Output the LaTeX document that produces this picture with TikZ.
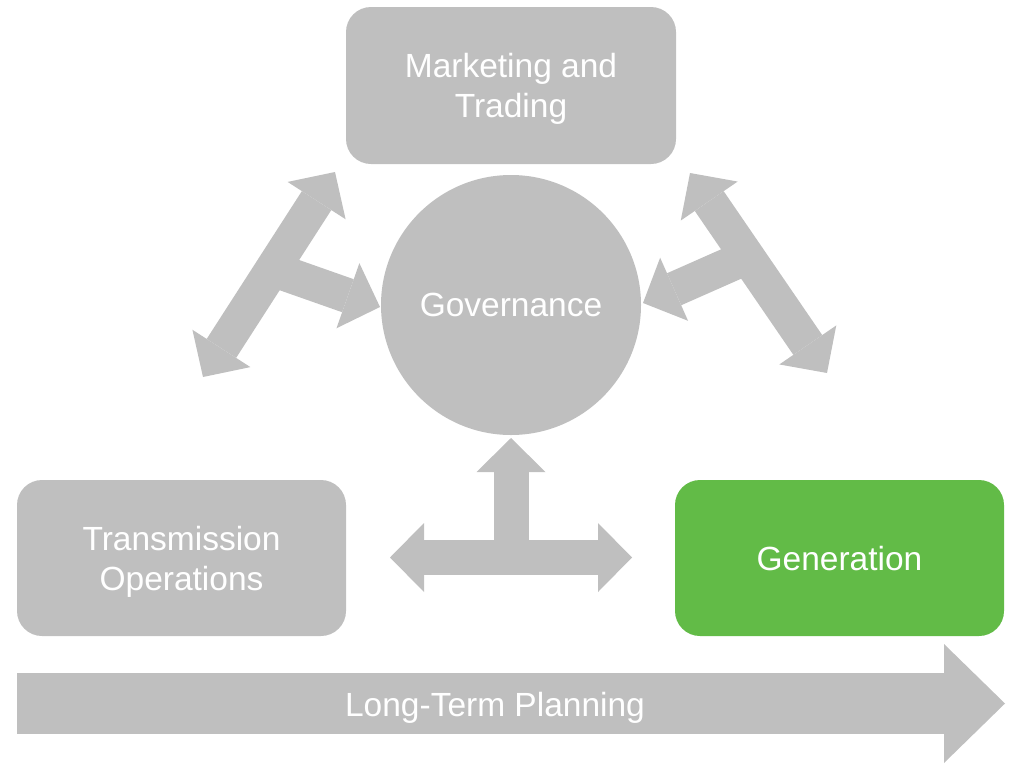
\documentclass[tikz,border=0pt]{standalone}
\usepackage{fontspec}
\setmainfont{Liberation Sans}
\usetikzlibrary{arrows.meta}
\definecolor{boxgray}{HTML}{BFBFBF}
\definecolor{boxgreen}{HTML}{62BB47}
\tikzset{
  lbl/.style={text=white, font=\fontsize{33.5}{40}\selectfont},
  box/.style={lbl, rectangle, rounded corners=25pt, inner sep=0pt, fill=boxgray,
    align=center, text depth=0pt},
  blk/.style={draw=boxgray, line width=35pt,
    >={Triangle[width=69pt,length=34pt,line width=0pt]}},
  bigblk/.style={draw=boxgray, line width=61pt,
    >={Triangle[width=119pt,length=61pt,line width=0pt]}},
}
\begin{document}
\begin{tikzpicture}[x=1pt,y=-1pt]
\useasboundingbox (0,0) rectangle (1009,763);
% nodes
\node[box, minimum width=330pt, minimum height=157pt] (mkt) at (511,85.5) {Marketing and\\Trading};
\node[box, minimum width=329pt, minimum height=156pt] (tx) at (181.5,558) {Transmission\\Operations};
\node[box, fill=boxgreen, minimum width=329pt, minimum height=156pt] (gen) at (839.5,558) {Generation};
\node[lbl, circle, fill=boxgray, minimum size=260pt, inner sep=0pt] (gov) at (511,305) {Governance};
% coordinates
\coordinate (l1) at (203,377);
\coordinate (l2) at (335,172);
\coordinate (lm) at (272,269);
\coordinate (lt) at (380,307);
\coordinate (r1) at (827,373);
\coordinate (r2) at (690,173);
\coordinate (rm) at (747,257);
\coordinate (rt) at (643,303);
\coordinate (b1) at (390,557.5);
\coordinate (b2) at (632,557.5);
\coordinate (bm) at (511,557.5);
\coordinate (bt) at (511,438);
\coordinate (p1) at (17,703.5);
\coordinate (p2) at (1005,703.5);
% arrows
\draw[blk,->] (lm) -- (lt);
\draw[blk,<->] (l1) -- (l2);
\draw[blk,->] (rm) -- (rt);
\draw[blk,<->] (r1) -- (r2);
\draw[blk,->] (bm) -- (bt);
\draw[blk,<->] (b1) -- (b2);
\draw[bigblk,->] (p1) -- (p2);
\node[lbl, text depth=0pt] (ltp) at (495,704.5) {Long-Term Planning};
\end{tikzpicture}
\end{document}
